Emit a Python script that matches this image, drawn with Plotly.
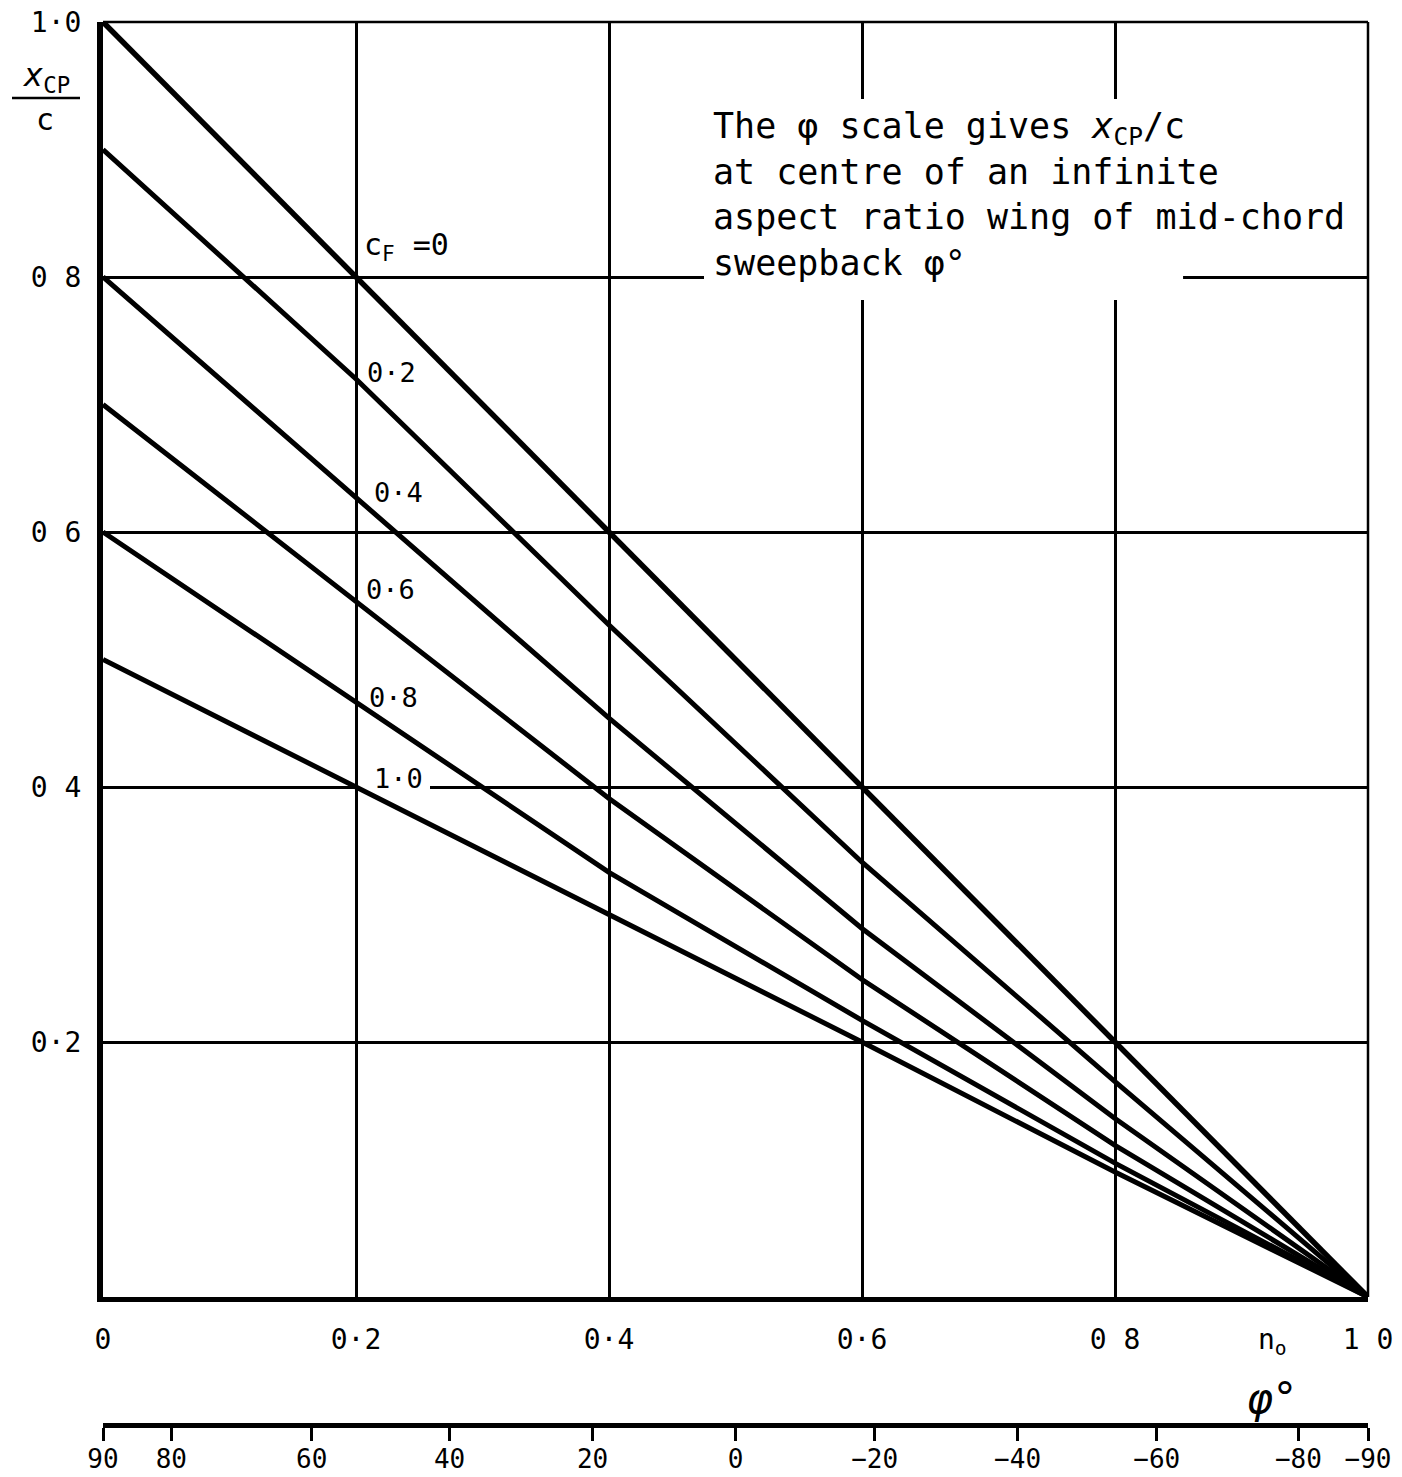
import plotly.graph_objects as go

# Spanwise station n0 at which each curve is read
n0 = [0.0, 0.2, 0.4, 0.6, 0.8, 1.0]

# Centre-of-pressure position x_cp / c for each flap chord ratio c_F
xcp_cf_00 = [1.00, 0.800, 0.600, 0.400, 0.200, 0.0]
xcp_cf_02 = [0.90, 0.720, 0.527, 0.341, 0.169, 0.0]
xcp_cf_04 = [0.80, 0.627, 0.454, 0.289, 0.140, 0.0]
xcp_cf_06 = [0.70, 0.545, 0.391, 0.249, 0.119, 0.0]
xcp_cf_08 = [0.60, 0.466, 0.333, 0.217, 0.105, 0.0]
xcp_cf_10 = [0.50, 0.400, 0.300, 0.200, 0.098, 0.0]

cf_names = ["c_F = 0", "c_F = 0.2", "c_F = 0.4", "c_F = 0.6", "c_F = 0.8", "c_F = 1.0"]
cf_labels = ["c<sub>F</sub> =0", "0·2", "0·4", "0·6", "0·8", "1·0"]

# Axis tick labels
n0_ticks = [0.0, 0.2, 0.4, 0.6, 0.8, 1.0]
n0_tick_text = ["0", "0·2", "0·4", "0·6", "0 8", "1 0"]
xcp_ticks = [0.2, 0.4, 0.6, 0.8, 1.0]
xcp_tick_text = ["0·2", "0 4", "0 6", "0 8", "1·0"]

# Sweep-angle scale: angle labels and the n0 they sit at
phi_tick_text = ["90", "80", "60", "40", "20", "0", "−20", "−40", "−60", "−80", "−90"]
phi_tick_n0 = [0.0, 0.054, 0.165, 0.274, 0.387, 0.5, 0.61, 0.723, 0.833, 0.945, 1.0]

series = [xcp_cf_00, xcp_cf_02, xcp_cf_04, xcp_cf_06, xcp_cf_08, xcp_cf_10]

# ---- layout geometry (pixels) ----
W, H = 1402, 1477
L, R, T = 103, 1368, 22          # plot left / right / top
B_PLOT = 1297                    # bottom of main plot area
B_PAPER = 1425                   # sweep-angle scale line
FONT = "DejaVu Sans Mono"


def px(x):
    return (x - L) / (R - L)


def py(y):
    return (B_PAPER - y) / (B_PAPER - T)


fig = go.Figure()

line_widths = [5.5, 5, 5, 5, 5, 5]
for ys, name, lw in zip(series, cf_names, line_widths):
    fig.add_trace(go.Scatter(
        x=n0, y=ys, mode="lines", name=name,
        line=dict(color="black", width=lw),
        showlegend=False,
    ))

# carrier trace so the sweep-angle axis gets its own subplot
fig.add_trace(go.Scatter(
    x=phi_tick_n0, y=[None] * len(phi_tick_n0), xaxis="x2", yaxis="y",
    mode="markers", marker=dict(opacity=0), hoverinfo="skip", showlegend=False,
))

# curve labels, set just right of the 0·2 grid line
label_pos = [(0.205, 0.824), (0.207, 0.725), (0.213, 0.631),
             (0.206, 0.555), (0.209, 0.470), (0.213, 0.407)]
annotations = []
for (lx, ly), txt in zip(label_pos, cf_labels):
    annotations.append(dict(
        x=lx, y=ly, xref="x", yref="y", text=txt, showarrow=False,
        xanchor="left", yanchor="middle",
        font=dict(family=FONT, size=30 if txt.startswith("c") else 27, color="black"),
    ))

# note in the upper right
annotations.append(dict(
    x=px(711), y=py(104), xref="paper", yref="paper",
    xanchor="left", yanchor="top", align="left", showarrow=False,
    text=("The φ scale gives <i>x</i><sub>CP</sub>/c<br>"
          "at centre of an infinite<br>"
          "aspect ratio wing of mid-chord<br>"
          "sweepback φ°"),
    font=dict(family=FONT, size=35, color="black"),
))

# y-axis title as a stacked fraction
annotations.append(dict(
    x=px(46), y=py(77), xref="paper", yref="paper", showarrow=False,
    text="<i>x</i><sub>CP</sub>", xanchor="center", yanchor="middle",
    font=dict(family=FONT, size=32, color="black"),
))
annotations.append(dict(
    x=px(45), y=py(119), xref="paper", yref="paper", showarrow=False,
    text="c", xanchor="center", yanchor="middle",
    font=dict(family=FONT, size=30, color="black"),
))

# x-axis titles
annotations.append(dict(
    x=px(1272), y=py(1341), xref="paper", yref="paper", showarrow=False,
    text="n<sub>o</sub>", xanchor="center", yanchor="middle",
    font=dict(family=FONT, size=28, color="black"),
))
annotations.append(dict(
    x=px(1272), y=py(1398), xref="paper", yref="paper", showarrow=False,
    text="<i>φ</i>°", xanchor="center", yanchor="middle",
    font=dict(family=FONT, size=42, color="black"),
))

shapes = [
    # top and right frame lines
    dict(type="line", xref="paper", yref="paper", x0=0, x1=1, y0=1, y1=1,
         line=dict(color="black", width=2.5)),
    dict(type="line", xref="paper", yref="paper", x0=1, x1=1, y0=py(B_PLOT), y1=1,
         line=dict(color="black", width=2.5)),
    # fraction bar of the y-axis title
    dict(type="line", xref="paper", yref="paper", x0=px(12), x1=px(80),
         y0=py(98), y1=py(98), line=dict(color="black", width=2.5)),
    # white panels that break the grid behind the note and the 1·0 label
    dict(type="rect", xref="x", yref="y", x0=0.4751, x1=0.8538, y0=0.782, y1=0.9396,
         fillcolor="white", line=dict(width=0), layer="between"),
    dict(type="rect", xref="x", yref="y", x0=0.2025, x1=0.2585, y0=0.392, y1=0.413,
         fillcolor="white", line=dict(width=0), layer="between"),
]

fig.update_layout(
    width=W, height=H,
    margin=dict(l=L, r=W - R, t=T, b=H - B_PAPER, pad=0, autoexpand=False),
    paper_bgcolor="white", plot_bgcolor="white",
    font=dict(family=FONT, color="black"),
    showlegend=False,
    annotations=annotations,
    shapes=shapes,
    xaxis=dict(
        range=[0, 1], tickvals=n0_ticks, ticktext=n0_tick_text,
        showline=True, linewidth=4.5, linecolor="black",
        showgrid=True, gridcolor="black", gridwidth=2.5,
        zeroline=False, ticks="", ticklabelstandoff=14, automargin=False,
        tickfont=dict(family=FONT, size=28, color="black"),
        anchor="y",
    ),
    yaxis=dict(
        range=[0, 1], domain=[py(B_PLOT), 1],
        tickvals=xcp_ticks, ticktext=xcp_tick_text,
        showline=True, linewidth=6, linecolor="black",
        showgrid=True, gridcolor="black", gridwidth=2.5,
        zeroline=False, ticks="", ticklabelstandoff=10, automargin=False,
        tickfont=dict(family=FONT, size=28, color="black"),
    ),
    xaxis2=dict(
        range=[0, 1], overlaying="x", anchor="free", position=0, side="bottom",
        tickvals=phi_tick_n0, ticktext=phi_tick_text,
        showline=True, linewidth=4.5, linecolor="black",
        ticks="outside", ticklen=13, tickwidth=2.5, tickcolor="black",
        showgrid=False, zeroline=False, ticklabelstandoff=-4, automargin=False,
        tickfont=dict(family=FONT, size=26, color="black"),
    ),
)

fig.write_html("out.html")
